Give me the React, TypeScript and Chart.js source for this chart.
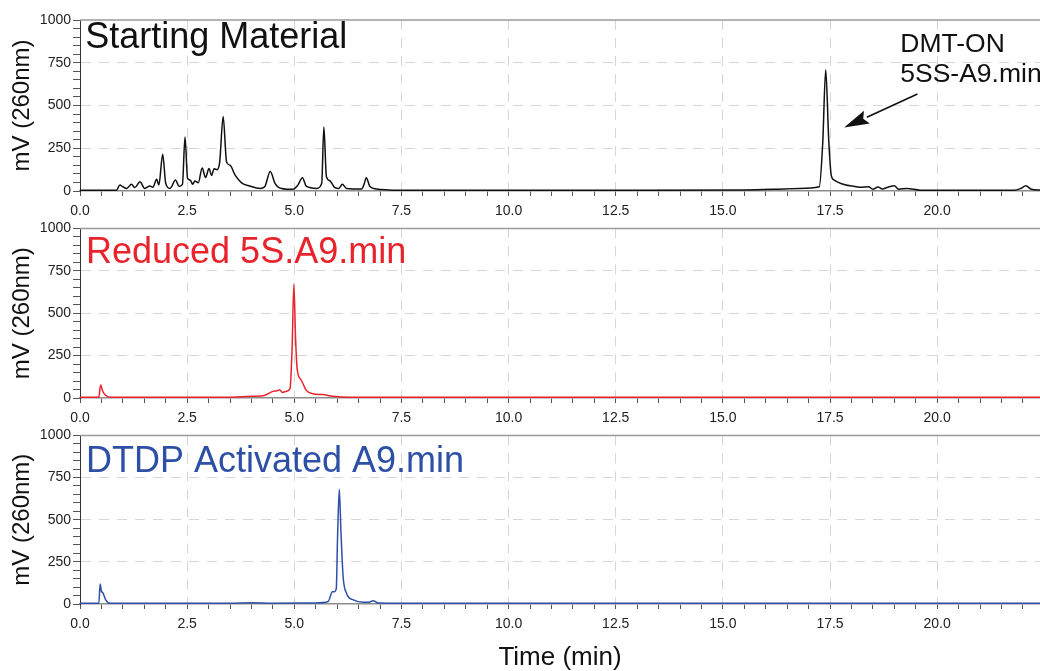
import React, { useEffect, useRef } from 'react';
import { Chart, registerables } from 'chart.js';

Chart.register(...registerables);

const FONT = '"Liberation Sans", Arial, Helvetica, sans-serif';

// ---------- axis values ----------
const X_MIN = 0;
const X_MAX = 22.4;
const X_MAJOR = 2.5;
const X_MINOR = 0.5;
const Y_MIN = 0;
const Y_MAX = 1000;
const Y_MAJOR = 250;
const Y_MINOR = 50;
const Y_TITLE = 'mV (260nm)';
const X_TITLE = 'Time (min)';

// ---------- Starting Material (black) ----------
const smTime = [
  0, 0.85, 0.93, 1.0, 1.09, 1.2, 1.28, 1.4, 1.51, 1.63, 1.7, 1.79, 1.84, 1.93, 2.0, 2.1,
  2.23, 2.31, 2.39, 2.45, 2.51, 2.57, 2.63, 2.68, 2.76, 2.85, 2.93, 3.01, 3.07, 3.13, 3.2,
  3.26, 3.34, 3.42, 3.5, 3.62, 3.77, 3.96, 4.2, 4.31, 4.44, 4.55, 4.7, 4.97, 5.08, 5.19,
  5.28, 5.52, 5.64, 5.69, 5.75, 5.83, 5.94, 6.04, 6.12, 6.22, 6.57, 6.63, 6.68, 6.76, 6.91,
  7.2, 7.6, 10.0, 13.0, 15.5, 16.2, 16.78, 17.25, 17.33, 17.4, 17.47, 17.53, 17.6, 17.68,
  17.87, 18.02, 18.2, 18.4, 18.5, 18.62, 18.72, 18.85, 19.0, 19.1, 19.3, 19.6, 20.5, 21.8,
  21.95, 22.07, 22.2, 22.4,
];
const smMv = [
  4, 4, 35, 25, 15, 39, 20, 54, 15, 29, 22, 68, 35, 215, 45, 15,
  64, 28, 39, 316, 74, 64, 40, 58, 48, 135, 79, 132, 91, 130, 125,
  170, 436, 170, 151, 93, 48, 29, 15, 25, 114, 45, 15, 10, 33, 78,
  28, 15, 45, 374, 83, 60, 21, 15, 39, 15, 12, 41, 78, 28, 12,
  6, 4, 4, 4, 6, 10, 15, 25, 280, 709, 300, 90, 64, 52,
  35, 29, 22, 25, 10, 24, 12, 22, 30, 10, 15, 5, 4, 5,
  15, 30, 10, 6,
];

// ---------- Reduced 5S.A9 (red) ----------
const redTime = [
  0, 0.44, 0.48, 0.53, 0.6, 0.75, 3.5, 4.03, 4.3, 4.5, 4.6, 4.66, 4.72, 4.82, 4.9, 4.95,
  4.99, 5.03, 5.07, 5.16, 5.28, 5.43, 5.66, 5.9, 6.3, 22.4,
];
const redMv = [
  4, 4, 77, 40, 15, 4, 5, 10, 15, 39, 42, 48, 33, 40, 55, 300,
  670, 350, 165, 107, 45, 25, 20, 10, 4, 4,
];

// ---------- DTDP Activated A9 (blue) ----------
const blueTime = [
  0, 0.44, 0.47, 0.5, 0.53, 0.6, 0.7, 3.5, 4.0, 4.5, 5.5, 5.79, 5.89, 5.94, 5.98, 6.01,
  6.05, 6.09, 6.14, 6.22, 6.38, 6.61, 6.75, 6.84, 6.96, 7.5, 22.4,
];
const blueMv = [
  5, 5, 118, 75, 68, 25, 5, 5, 8, 5, 6, 15, 73, 73, 92, 400,
  680, 420, 160, 63, 24, 10, 10, 20, 6, 5, 5,
];

// ---------- text labels (data coordinates) ----------
const smTitle = { text: 'Starting Material', t: 0.12, v: 835 };
const redTitle = { text: 'Reduced 5S.A9.min', t: 0.14, v: 796 };
const blueTitle = { text: 'DTDP Activated A9.min', t: 0.14, v: 784 };
const dmtLines = ['DMT-ON', '5SS-A9.min'];
const dmtAt = { t: 19.14, v1: 815, v2: 640 };
const arrowFrom = { t: 19.54, v: 567 };
const arrowTo = { t: 17.83, v: 371 };

const BLACK = '#111111';
const RED = '#e8232c';
const BLUE = '#2d4fa6';
const GRID = '#d6d6d6';

const isMult = (v: number, step: number) => Math.abs(v / step - Math.round(v / step)) < 1e-6;

type PanelProps = {
  top: number;
  height: number;
  padTop: number;
  xHeight: number;
  times: number[];
  values: number[];
  color: string;
  title: { text: string; t: number; v: number };
  showXTitle?: boolean;
  dmt?: boolean;
};

function Panel(p: PanelProps) {
  const ref = useRef<HTMLCanvasElement>(null);
  useEffect(() => {
    const notes = {
      id: 'notes',
      afterDatasetsDraw(chart: any) {
        const { ctx, scales } = chart;
        const xs = scales.x;
        const ys = scales.y;
        ctx.save();
        // top frame line
        const ca = chart.chartArea;
        ctx.strokeStyle = '#9a9a9a';
        ctx.lineWidth = 1.5;
        ctx.beginPath();
        ctx.moveTo(ca.left, ca.top);
        ctx.lineTo(ca.right, ca.top);
        ctx.stroke();
        // panel title
        ctx.fillStyle = p.color;
        ctx.font = `36px ${FONT}`;
        ctx.textBaseline = 'alphabetic';
        ctx.textAlign = 'left';
        ctx.fillText(p.title.text, xs.getPixelForValue(p.title.t), ys.getPixelForValue(p.title.v));
        if (p.dmt) {
          ctx.fillStyle = '#111';
          ctx.font = `26.5px ${FONT}`;
          const tx = xs.getPixelForValue(dmtAt.t);
          ctx.fillText(dmtLines[0], tx, ys.getPixelForValue(dmtAt.v1));
          ctx.fillText(dmtLines[1], tx, ys.getPixelForValue(dmtAt.v2));
          const x1 = xs.getPixelForValue(arrowFrom.t);
          const y1 = ys.getPixelForValue(arrowFrom.v);
          const x2 = xs.getPixelForValue(arrowTo.t);
          const y2 = ys.getPixelForValue(arrowTo.v);
          const ang = Math.atan2(y2 - y1, x2 - x1);
          const headLen = 25;
          const headHalf = 7;
          const bx = x2 - headLen * Math.cos(ang);
          const by = y2 - headLen * Math.sin(ang);
          ctx.strokeStyle = '#111';
          ctx.lineWidth = 1.6;
          ctx.beginPath();
          ctx.moveTo(x1, y1);
          ctx.lineTo(bx, by);
          ctx.stroke();
          ctx.beginPath();
          ctx.moveTo(x2, y2);
          ctx.lineTo(bx + headHalf * Math.sin(ang), by - headHalf * Math.cos(ang));
          ctx.lineTo(bx + 4 * Math.cos(ang), by + 4 * Math.sin(ang));
          ctx.lineTo(bx - headHalf * Math.sin(ang), by + headHalf * Math.cos(ang));
          ctx.closePath();
          ctx.fill();
        }
        ctx.restore();
      },
    };

    const chart = new Chart(ref.current as HTMLCanvasElement, {
      type: 'line',
      data: {
        datasets: [
          {
            data: p.times.map((t, i) => ({ x: t, y: p.values[i] })),
            borderColor: p.color,
            borderWidth: 1.5,
            pointRadius: 0,
            fill: false,
            cubicInterpolationMode: 'monotone',
          },
        ],
      },
      options: {
        animation: false,
        responsive: false,
        devicePixelRatio: 1,
        events: [],
        layout: { padding: { top: p.padTop, left: 0, right: 0, bottom: 0 } },
        plugins: { legend: { display: false }, tooltip: { enabled: false } },
        scales: {
          x: {
            type: 'linear',
            min: X_MIN,
            max: X_MAX,
            afterFit: (s: any) => {
              s.height = p.xHeight;
            },
            ticks: {
              stepSize: X_MINOR,
              autoSkip: false,
              includeBounds: false,
              maxRotation: 0,
              padding: 7,
              color: '#222',
              font: { family: FONT, size: 14 },
              callback: (v: any) => (isMult(Number(v), X_MAJOR) ? Number(v).toFixed(1) : ''),
            },
            grid: {
              color: (c: any) =>
                c.tick && c.tick.value > 0 && isMult(c.tick.value, X_MAJOR) ? GRID : 'transparent',
              lineWidth: 1,
              tickLength: 5,
              tickColor: '#555',
              tickWidth: 1,
            },
            border: { display: true, color: '#8c8c8c', width: 1.5, dash: [10, 8] },
            title: p.showXTitle
              ? {
                  display: true,
                  text: X_TITLE,
                  color: '#111',
                  font: { family: FONT, size: 26, lineHeight: 1 },
                  padding: { top: 0, bottom: 0.5 },
                }
              : { display: false },
          },
          y: {
            type: 'linear',
            min: Y_MIN,
            max: Y_MAX,
            afterFit: (s: any) => {
              s.width = 80;
            },
            ticks: {
              stepSize: Y_MINOR,
              autoSkip: false,
              padding: 2,
              color: '#222',
              font: { family: FONT, size: 14 },
              callback: (v: any) => (isMult(Number(v), Y_MAJOR) ? String(v) : ''),
            },
            grid: {
              color: (c: any) =>
                c.tick && c.tick.value > 0 && c.tick.value < Y_MAX && isMult(c.tick.value, Y_MAJOR)
                  ? GRID
                  : 'transparent',
              lineWidth: 1,
              tickLength: 7,
              tickColor: '#555',
              tickWidth: 1,
            },
            border: { display: true, color: '#333', width: 1, dash: [10, 8] },
            title: {
              display: true,
              text: Y_TITLE,
              color: '#111',
              font: { family: FONT, size: 24, lineHeight: 1 },
              padding: { top: 10, bottom: 0 },
            },
          },
        },
      } as any,
      plugins: [notes],
    });
    return () => chart.destroy();
  }, []);
  return (
    <canvas
      ref={ref}
      width={1040}
      height={p.height}
      style={{ position: 'absolute', left: 0, top: p.top, display: 'block', width: 1040, height: p.height }}
    />
  );
}

export default function App() {
  return (
    <div style={{ position: 'absolute', left: 0, top: 0, width: 1040, height: 671, background: '#fff', overflow: 'hidden' }}>
      <Panel top={0} height={218} padTop={20} xHeight={27} times={smTime} values={smMv} color={BLACK} title={smTitle} dmt />
      <Panel top={218} height={207} padTop={9} xHeight={27} times={redTime} values={redMv} color={RED} title={redTitle} />
      <Panel top={425} height={246} padTop={9} xHeight={67} times={blueTime} values={blueMv} color={BLUE} title={blueTitle} showXTitle />
    </div>
  );
}
